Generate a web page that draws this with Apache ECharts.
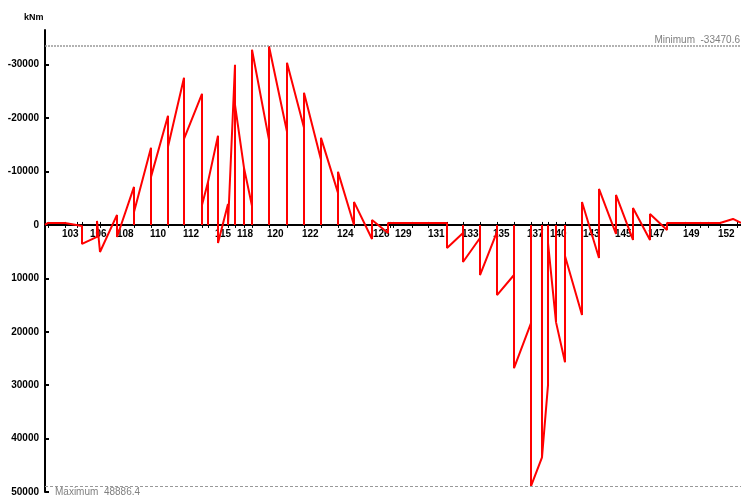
<!DOCTYPE html>
<html><head><meta charset="utf-8">
<script src="https://cdn.jsdelivr.net/npm/echarts@6/dist/echarts.min.js"></script>
<style>html,body{margin:0;padding:0;background:#fff}#c{width:741px;height:497px}</style>
</head><body><div id="c"></div>
<script>
// Nodes along the member: station, moment at end of element on the left, moment at start of element on the right (kNm)
const nodeStation = [0,3,20,37,52,55,72,89,106,123,139,157,163,173,183,190,199,207,224,242,259,276,293,309,327,343,402,418,435,452,469,486,497,503,511,520,537,554,571,588,605,622,675,688,696];
const leftMoment  = [0,-375,-375,190,2250,5060,-1875,-7125,-14440,-20440,-27560,-24560,-8060,-16690,-3940,-30000,-10690,-3560,-15940,-17440,-18190,-12190,-6000,0,2625,1500,-375,1500,2440,1310,9375,18375,43500,30000,18190,25690,16875,6190,1690,2810,2810,940,-375,-1125,-375];
const rightMoment = [0,-375,-375,3560,-750,5060,2250,-2440,-9000,-14625,-16125,-3750,-8060,3375,0,-22500,-10690,-32810,-33470.6,-30380,-24750,-16310,-9940,-4310,-940,-375,4310,6940,9375,13125,26810,48886.4,43500,3375,18190,5810,-4310,-6750,-5625,-3190,-2060,-375,-375,-1125,-375];
const dropToAxis  = [0,0,0,1,1,0,1,1,1,1,1,1,1,1,1,1,1,1,1,1,1,1,1,1,1,1,1,1,1,1,1,1,1,1,1,1,1,1,1,1,1,1,0,0,0];
const tickStations = [3,20,32,37,52,55,72,89,106,123,139,157,163,173,183,190,199,207,224,242,259,276,293,309,327,343,345,348,367,383,402,418,435,452,469,486,497,503,511,520,537,554,571,588,605,622,640,655,663,675,692];
const labelStations = [17,45,72,105,138,170,192,222,257,292,328,350,383,417,448,482,505,538,570,603,638,673];
const labelNames = ['103','106','108','110','112','115','118','120','122','124','126','129','131','133','135','137','140','143','145','147','149','152'];
const yTicks = [-30000,-20000,-10000,0,10000,20000,30000,40000,50000];
const minimumValue = -33470.6;
const maximumValue = 48886.4;

const lineData = [];
nodeStation.forEach((s, i) => {
  const L = leftMoment[i], R = rightMoment[i];
  if (i > 0) lineData.push([s, L]);
  if (dropToAxis[i]) lineData.push([s, 0]);
  if (i < nodeStation.length - 1 && (R !== L || dropToAxis[i] || i === 0)) lineData.push([s, R]);
});

const font = 'Liberation Sans';
const chart = echarts.init(document.getElementById('c'));
const gridTop = 30, gridBottom = 5, H = 497;
const yMin = -36500, yMax = 50000;
const zeroOffset = -((H - gridBottom - gridTop) * (yMax - 0) / (yMax - yMin));
chart.setOption({
  animation: false,
  title: { text: 'kNm', left: 19, top: 8, textStyle: { fontSize: 9, fontWeight: 'bold', color: '#000', fontFamily: font } },
  grid: { left: 45, right: 0, top: gridTop, bottom: gridBottom, containLabel: false, outerBoundsMode: 'none' },
  xAxis: [{
    type: 'value', min: 0, max: 696, position: 'bottom', offset: zeroOffset,
    axisLine: { onZero: false, lineStyle: { color: '#000', width: 2 } },
    splitLine: { show: false },
    axisTick: { customValues: tickStations, length: 3, lineStyle: { color: '#000', width: 1 } },
    axisLabel: { customValues: labelStations, formatter: v => labelNames[labelStations.indexOf(v)] || '', align: 'left', margin: 4, fontSize: 10, fontWeight: 'bold', color: '#000', fontFamily: font }
  }, {
    type: 'value', min: 0, max: 696, position: 'bottom', offset: zeroOffset,
    axisLine: { onZero: false, show: false },
    splitLine: { show: false },
    axisTick: { customValues: tickStations, inside: true, length: 3, lineStyle: { color: '#000', width: 1 } },
    axisLabel: { show: false }
  }],
  yAxis: {
    type: 'value', inverse: true, min: yMin, max: yMax,
    axisLine: { show: true, onZero: false, lineStyle: { color: '#000', width: 2 } },
    splitLine: { show: false },
    axisTick: { customValues: yTicks, inside: true, length: 4, lineStyle: { color: '#000', width: 2 } },
    axisLabel: { customValues: yTicks, formatter: v => String(v), margin: 6, fontSize: 10, fontWeight: 'bold', color: '#000', fontFamily: font }
  },
  series: [{
    type: 'line', data: lineData, showSymbol: false, symbol: 'none',
    lineStyle: { color: '#ff0000', width: 2 },
    clip: false,
    markLine: {
      silent: true, symbol: 'none', animation: false,
      data: [
        { yAxis: minimumValue, lineStyle: { color: '#999', width: 1.5, type: [2, 1] },
          label: { position: 'insideEndTop', formatter: 'Minimum  ' + minimumValue, color: '#808080', fontSize: 10, fontFamily: font, distance: 1 } },
        { yAxis: maximumValue, lineStyle: { color: '#999', width: 1, type: [3, 2] },
          label: { position: 'insideStartBottom', formatter: 'Maximum  ' + maximumValue, color: '#808080', fontSize: 10, fontFamily: font, distance: [10, 1] } }
      ]
    }
  }]
});
</script></body></html>
